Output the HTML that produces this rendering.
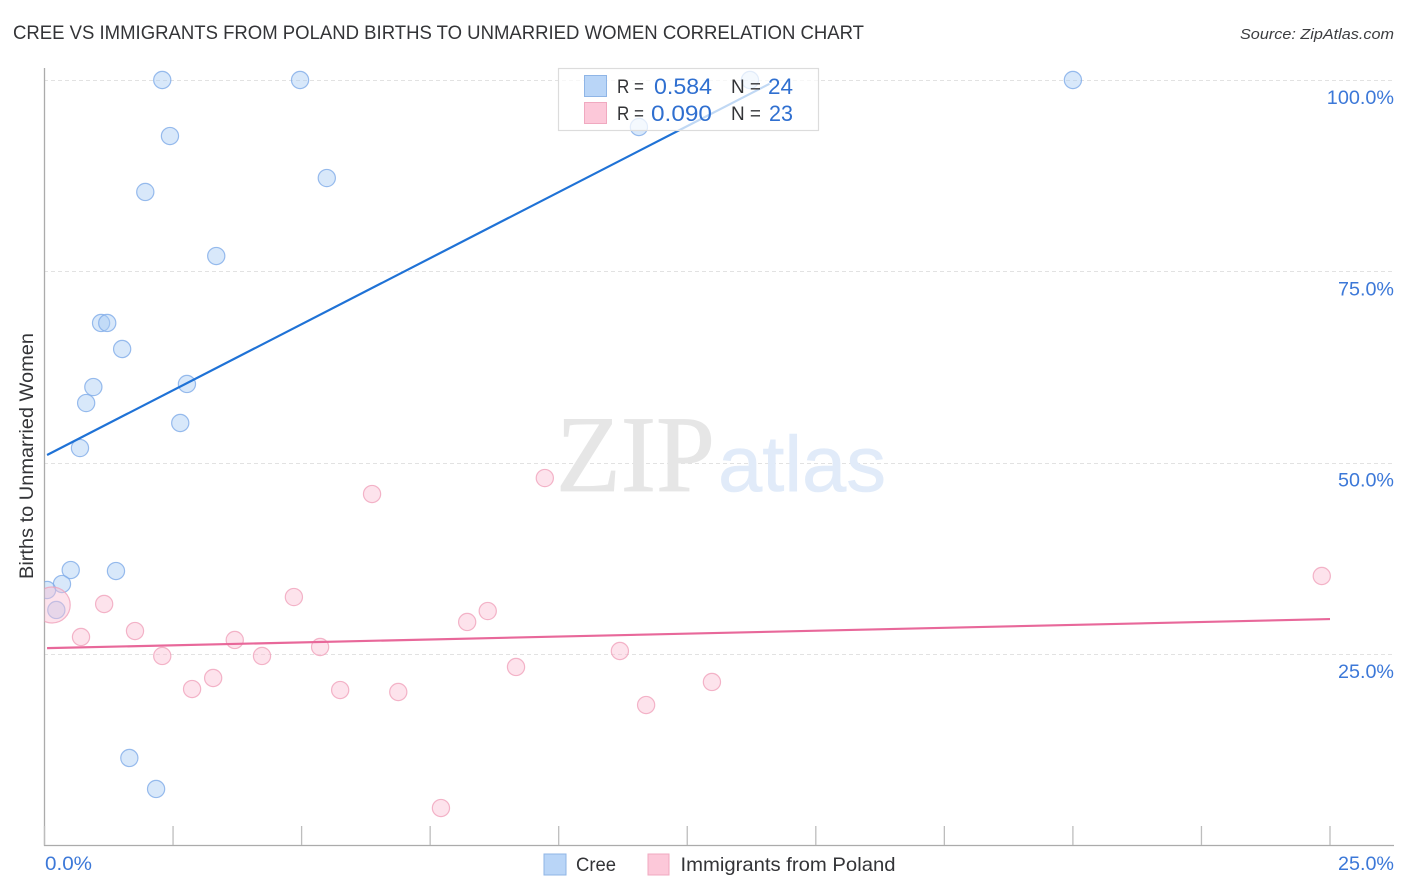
<!DOCTYPE html>
<html lang="en">
<head>
<meta charset="utf-8">
<title>Cree vs Immigrants from Poland Births to Unmarried Women Correlation Chart</title>
<style>
html,body{margin:0;padding:0;background:#fff;width:1406px;height:892px;overflow:hidden}
svg{display:block;font-family:"Liberation Sans",sans-serif}
</style>
</head>
<body>
<svg id="chart" width="1406" height="892" viewBox="0 0 1406 892" xmlns="http://www.w3.org/2000/svg">
  <defs>
    <clipPath id="plot-clip"><rect x="44.5" y="60" width="1350" height="786"/></clipPath>
  </defs>
  <rect x="0" y="0" width="1406" height="892" fill="#ffffff"/>
  <text x="13" y="39" font-size="19.5" fill="#333437" textLength="851" lengthAdjust="spacingAndGlyphs">CREE VS IMMIGRANTS FROM POLAND BIRTHS TO UNMARRIED WOMEN CORRELATION CHART</text>
  <text x="1394" y="39" font-size="15" font-style="italic" fill="#3c3d40" text-anchor="end" textLength="154" lengthAdjust="spacingAndGlyphs">Source: ZipAtlas.com</text>

  <g id="grid"></g>

  <g>
    <text x="556" y="491" font-family="'Liberation Serif',serif" font-size="109" fill="#e6e6e6" stroke="#e6e6e6" stroke-width="0.8" textLength="159" lengthAdjust="spacingAndGlyphs">ZIP</text>
    <text x="718" y="491" font-size="79" fill="#e1ebf9" stroke="#e1ebf9" stroke-width="0.6" textLength="168" lengthAdjust="spacingAndGlyphs">atlas</text>
  </g>

  <g id="axes"></g>
  <g id="points-blue" clip-path="url(#plot-clip)"></g>
  <g id="points-pink" clip-path="url(#plot-clip)"></g>
  <g id="trends"></g>

  <text transform="translate(33,456) rotate(-90)" font-size="19" fill="#333437" text-anchor="middle" textLength="246" lengthAdjust="spacingAndGlyphs">Births to Unmarried Women</text>

  <g id="y-labels"></g>
  <g id="x-labels"></g>

  <g>
    <rect x="558.5" y="68.5" width="260" height="62" fill="#ffffff" fill-opacity="0.72" stroke="#dcdcdc" stroke-width="1.2"/>
    <rect x="584.5" y="75.5" width="22" height="21" fill="#b9d5f7" stroke="#8fb5e6" stroke-width="1"/>
    <rect x="584.5" y="102.5" width="22" height="21" fill="#fcc8d9" stroke="#f0a9c0" stroke-width="1"/>
    <text x="617" y="93" font-size="19" fill="#333437" textLength="27" lengthAdjust="spacingAndGlyphs">R =</text>
    <text x="654" y="94" font-size="22" fill="#2f6fd0" textLength="58" lengthAdjust="spacingAndGlyphs">0.584</text>
    <text x="731" y="93" font-size="19" fill="#333437" textLength="30" lengthAdjust="spacingAndGlyphs">N =</text>
    <text x="768" y="94" font-size="22" fill="#2f6fd0" textLength="25" lengthAdjust="spacingAndGlyphs">24</text>
    <text x="617" y="120" font-size="19" fill="#333437" textLength="27" lengthAdjust="spacingAndGlyphs">R =</text>
    <text x="651" y="121" font-size="22" fill="#2f6fd0" textLength="61" lengthAdjust="spacingAndGlyphs">0.090</text>
    <text x="731" y="120" font-size="19" fill="#333437" textLength="30" lengthAdjust="spacingAndGlyphs">N =</text>
    <text x="769" y="121" font-size="22" fill="#2f6fd0" textLength="24" lengthAdjust="spacingAndGlyphs">23</text>
  </g>

  <g>
    <rect x="544" y="854" width="22" height="21" fill="#b9d5f7" stroke="#8fb5e6" stroke-width="1"/>
    <text x="576" y="871" font-size="19.5" fill="#333437" textLength="40" lengthAdjust="spacingAndGlyphs">Cree</text>
    <rect x="648" y="854" width="21" height="21" fill="#fcc8d9" stroke="#f0a9c0" stroke-width="1"/>
    <text x="680.5" y="871" font-size="19.5" fill="#333437" textLength="215" lengthAdjust="spacingAndGlyphs">Immigrants from Poland</text>
  </g>
</svg>
<script>
var xTicks = [0, 2.5, 5, 7.5, 10, 12.5, 15, 17.5, 20, 22.5, 25];
var xTickLabels = ["0.0%", "25.0%"];
var yTicks = [100, 75, 50, 25];
var yTickLabels = ["100.0%", "75.0%", "50.0%", "25.0%"];

var creeX = [2.29, 4.97, 13.72, 20.0, 2.44, 11.56, 1.96, 5.49, 3.34, 1.10, 1.22, 1.51, 0.95, 0.81, 2.77, 2.64, 0.69, 0.51, 1.39, 0.34, 0.05, 0.23, 1.65, 2.17];
var creeY = [100, 100, 100, 100, 92.68, 93.86, 85.37, 87.19, 77.0, 68.25, 68.25, 64.85, 59.88, 57.79, 60.28, 55.18, 51.91, 35.97, 35.84, 34.14, 33.36, 30.75, 11.41, 7.36];

var polandX = [24.84, 9.73, 6.37, 1.16, 4.85, 8.62, 8.22, 0.15, 0.71, 1.76, 3.70, 5.36, 2.29, 4.23, 11.19, 9.17, 3.28, 2.87, 5.75, 6.88, 12.98, 11.70, 7.71];
var polandY = [35.19, 47.99, 45.90, 31.53, 32.44, 30.61, 29.18, 31.4, 27.22, 28.0, 26.83, 25.91, 24.74, 24.74, 25.39, 23.30, 21.86, 20.42, 20.29, 20.03, 21.34, 18.33, 4.87];
var polandLarge = [0, 0, 0, 0, 0, 0, 0, 1, 0, 0, 0, 0, 0, 0, 0, 0, 0, 0, 0, 0, 0, 0, 0];

var creeTrendX = [0.05, 14.1];
var creeTrendY = [51.0, 99.5];
var polandTrendX = [0.05, 25];
var polandTrendY = [25.76, 29.56];

var NS = "http://www.w3.org/2000/svg";
function sx(v) { return 44.5 + v * 51.42; }
function sy(v) { return 80 + (100 - v) * 7.653; }
function make(tag, parent, attrs) {
  var el = document.createElementNS(NS, tag);
  for (var k in attrs) { el.setAttribute(k, attrs[k]); }
  parent.appendChild(el);
  return el;
}

var grid = document.getElementById("grid");
yTicks.forEach(function (t) {
  var line = make("line", grid, {x1: 44, x2: 1394, y1: Math.round(sy(t)) + 0.5, y2: Math.round(sy(t)) + 0.5, stroke: "#e2e2e2", "stroke-width": 1, "stroke-dasharray": "4 3"});
  
  
});

var axes = document.getElementById("axes");
var yAxis = make("line", axes, {x1: 44.5, x2: 44.5, y1: 68, y2: 846, stroke: "#ababab", "stroke-width": 1.3});


var xAxis = make("line", axes, {x1: 44, x2: 1394, y1: 845.5, y2: 845.5, stroke: "#ababab", "stroke-width": 1.3});


xTicks.forEach(function (t) {
  var tick = make("line", axes, {x1: sx(t), x2: sx(t), y1: 826, y2: 845, stroke: "#bdbdbd", "stroke-width": 1.3});
  
  
});

function drawPoints(group, xs, ys, fill, stroke, large, series) {
  xs.forEach(function (x, i) {
    var big = large && large[i];
    var c = make("circle", group, {cx: sx(x), cy: sy(ys[i]), r: big ? 18 : 8.6, fill: fill, "fill-opacity": 0.45, stroke: stroke, "stroke-width": 1.2, "stroke-opacity": 0.8});
    
    
  });
}
drawPoints(document.getElementById("points-blue"), creeX, creeY, "#a9cbf4", "#7fabe8", null, "cree-point");
drawPoints(document.getElementById("points-pink"), polandX, polandY, "#fbc0d4", "#f0a3bc", polandLarge, "poland-point");

var trends = document.getElementById("trends");
var creeTrend = make("line", trends, {x1: sx(creeTrendX[0]), y1: sy(creeTrendY[0]), x2: sx(creeTrendX[1]), y2: sy(creeTrendY[1]), stroke: "#1f72d6", "stroke-width": 2.2});


var polandTrend = make("line", trends, {x1: sx(polandTrendX[0]), y1: sy(polandTrendY[0]), x2: sx(polandTrendX[1]), y2: sy(polandTrendY[1]), stroke: "#e8689a", "stroke-width": 2.2});



var yLabels = document.getElementById("y-labels");
yTicks.forEach(function (t, i) {
  var label = make("text", yLabels, {x: 1394, y: sy(t) + 24, "font-size": 19.5, fill: "#3c78d8", "text-anchor": "end", textLength: yTickLabels[i].length * 11.2, lengthAdjust: "spacingAndGlyphs"});
  label.textContent = yTickLabels[i];
  
  
});

var xLabels = document.getElementById("x-labels");
var xLabelLeft = make("text", xLabels, {x: 45, y: 870, "font-size": 19.5, fill: "#3c78d8", textLength: 47, lengthAdjust: "spacingAndGlyphs"});
xLabelLeft.textContent = xTickLabels[0];


var xLabelRight = make("text", xLabels, {x: 1394, y: 870, "font-size": 19.5, fill: "#3c78d8", "text-anchor": "end", textLength: 56, lengthAdjust: "spacingAndGlyphs"});
xLabelRight.textContent = xTickLabels[1];


</script>
</body>
</html>
